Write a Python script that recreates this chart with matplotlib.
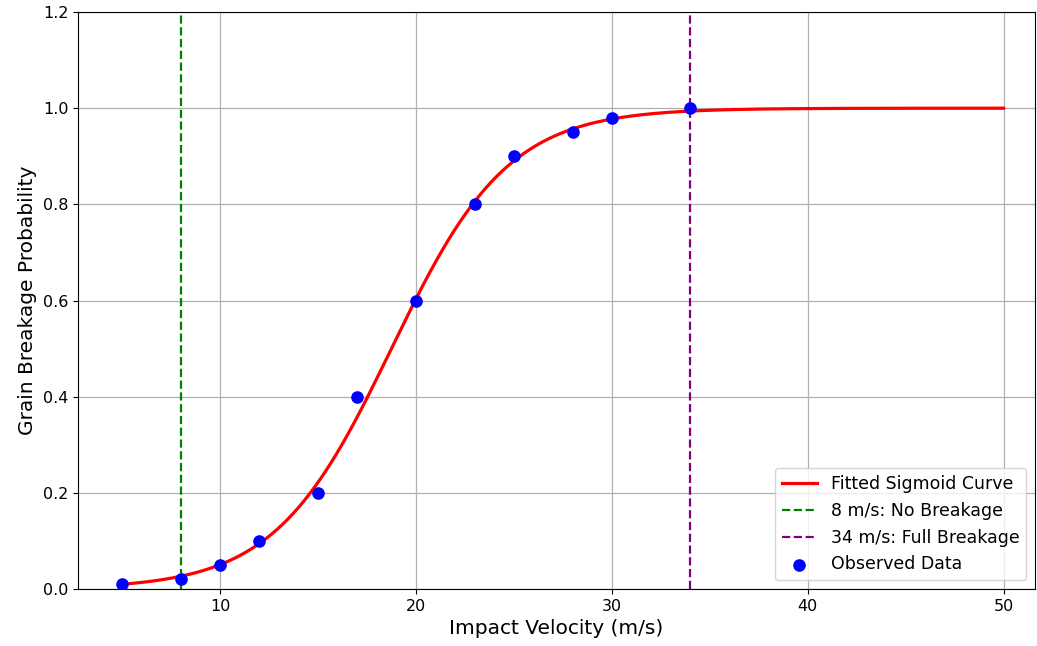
import numpy as np
import matplotlib
matplotlib.use("Agg")
import matplotlib.pyplot as plt

# Observed data
velocity = [5, 8, 10, 12, 15, 17, 20, 23, 25, 28, 30, 34]
breakage = [0.01, 0.02, 0.05, 0.10, 0.20, 0.40, 0.60, 0.80, 0.90, 0.95, 0.98, 1.00]

# Fitted sigmoid parameters
fit_L = 1.0
fit_k = 0.335
fit_x0 = 18.75
curve_start, curve_end = 5, 50

no_break_v = 8
full_break_v = 34

x_fit = np.linspace(curve_start, curve_end, 500)
y_fit = fit_L / (1 + np.exp(-fit_k * (x_fit - fit_x0)))

fig = plt.figure(figsize=(10.37, 6.46), dpi=100)
ax = fig.add_axes([0.0752, 0.0882, 0.9228, 0.8932])

ax.plot(x_fit, y_fit, color="red", linewidth=2.3, label="Fitted Sigmoid Curve", zorder=2)
ax.axvline(no_break_v, color="green", linestyle="--", linewidth=1.6,
           label=f"{no_break_v} m/s: No Breakage")
ax.axvline(full_break_v, color="purple", linestyle="--", linewidth=1.6,
           label=f"{full_break_v} m/s: Full Breakage")
ax.scatter(velocity, breakage, color="blue", s=65, label="Observed Data", zorder=3)

ax.set_xlim(2.75, 51.6)
ax.set_ylim(0, 1.2)
ax.set_xticks([10, 20, 30, 40, 50])
ax.set_xlabel("Impact Velocity (m/s)", fontsize=14.5)
ax.set_ylabel("Grain Breakage Probability", fontsize=14.5)
ax.tick_params(labelsize=11.5)
ax.grid(True, color="#b0b0b0", linewidth=0.9)
ax.legend(loc="lower right", fontsize=12.5)

fig.savefig("out.png", dpi=100)
